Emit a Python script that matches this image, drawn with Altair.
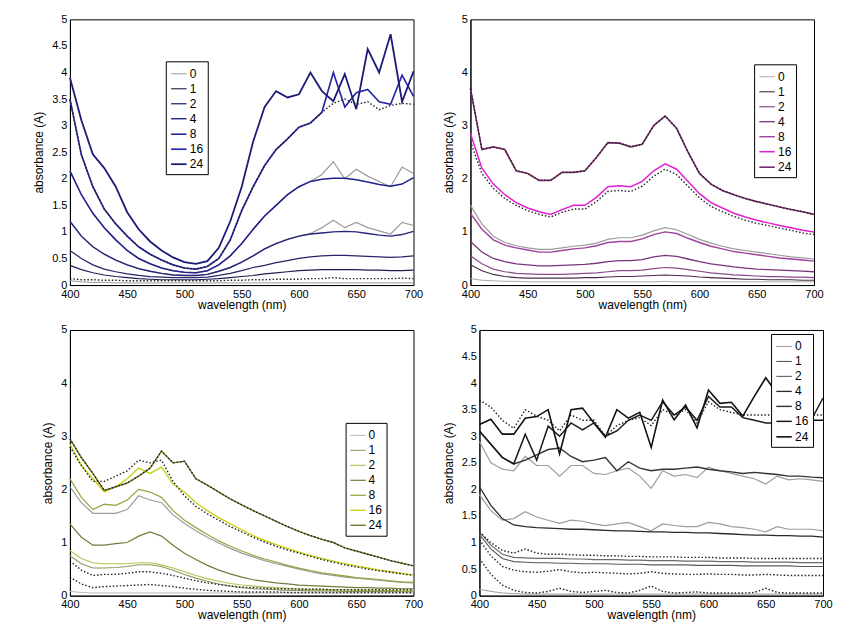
import altair as alt
import pandas as pd

WL = list(range(400, 701, 10))
LABELS = ["0", "1", "2", "4", "8", "16", "24"]
X_TICKS = [400, 450, 500, 550, 600, 650, 700]

# ---------------- Panel 1 (blue) ----------------
A0 = [0.08, 0.06, 0.05, 0.05, 0.04, 0.04, 0.04, 0.04, 0.04, 0.04, 0.04, 0.04, 0.04, 0.04, 0.04, 0.04,
      0.04, 0.04, 0.04, 0.04, 0.04, 0.04, 0.04, 0.04, 0.04, 0.04, 0.04, 0.04, 0.04, 0.04, 0.04]
A1 = [0.37, 0.29, 0.23, 0.19, 0.16, 0.14, 0.12, 0.11, 0.10, 0.10, 0.10, 0.10, 0.11, 0.12, 0.14, 0.16,
      0.18, 0.21, 0.23, 0.25, 0.27, 0.28, 0.29, 0.29, 0.29, 0.29, 0.28, 0.28, 0.27, 0.27, 0.28]
A2 = [0.65, 0.50, 0.38, 0.30, 0.25, 0.21, 0.18, 0.16, 0.15, 0.14, 0.14, 0.14, 0.15, 0.18, 0.22, 0.27,
      0.33, 0.37, 0.42, 0.46, 0.50, 0.53, 0.55, 0.56, 0.56, 0.55, 0.54, 0.53, 0.52, 0.53, 0.55]
A4 = [1.20, 0.92, 0.72, 0.58, 0.47, 0.38, 0.31, 0.26, 0.22, 0.19, 0.18, 0.18, 0.20, 0.26, 0.33, 0.43,
      0.55, 0.68, 0.78, 0.86, 0.92, 0.96, 0.98, 1.00, 1.01, 1.00, 0.97, 0.94, 0.92, 0.95, 1.01]
A8 = [2.15, 1.70, 1.35, 1.08, 0.85, 0.65, 0.50, 0.40, 0.32, 0.27, 0.24, 0.23, 0.27, 0.38, 0.55, 0.78,
      1.05, 1.30, 1.50, 1.70, 1.85, 1.95, 1.99, 2.01, 2.01, 1.98, 1.94, 1.89, 1.86, 1.90, 2.02]
A16 = [3.50, 2.45, 1.85, 1.43, 1.15, 0.92, 0.72, 0.58, 0.47, 0.38, 0.32, 0.30, 0.35, 0.50, 0.85, 1.40,
       1.85, 2.25, 2.55, 2.75, 2.97, 3.05, 3.25, 4.00, 3.35, 3.62, 3.68, 3.45, 3.40, 3.95, 3.55]
A24 = [3.90, 3.10, 2.46, 2.20, 1.85, 1.37, 1.05, 0.82, 0.65, 0.52, 0.43, 0.40, 0.45, 0.70, 1.20, 1.85,
       2.70, 3.35, 3.65, 3.53, 3.59, 4.00, 3.65, 3.46, 3.97, 3.31, 4.44, 4.00, 4.72, 3.45, 4.02]
A8_meas = [2.15, 1.70, 1.35, 1.08, 0.85, 0.65, 0.50, 0.40, 0.32, 0.27, 0.24, 0.23, 0.27, 0.38, 0.55, 0.78,
           1.05, 1.30, 1.50, 1.70, 1.85, 1.95, 2.08, 2.32, 2.00, 2.18, 2.05, 1.95, 1.85, 2.22, 2.10]
A4_meas = [1.20, 0.92, 0.72, 0.58, 0.47, 0.38, 0.31, 0.26, 0.22, 0.19, 0.18, 0.18, 0.20, 0.26, 0.33, 0.43,
           0.55, 0.68, 0.78, 0.86, 0.92, 0.97, 1.08, 1.22, 1.08, 1.18, 1.08, 1.02, 0.96, 1.18, 1.12]
A_fit_top = [3.50, 2.45, 1.85, 1.43, 1.15, 0.92, 0.72, 0.58, 0.47, 0.38, 0.32, 0.30, 0.35, 0.50, 0.85, 1.40,
             1.85, 2.25, 2.55, 2.75, 2.97, 3.05, 3.25, 3.42, 3.50, 3.40, 3.45, 3.30, 3.38, 3.42, 3.40]
A_fit_low = [0.12, 0.10, 0.10, 0.09, 0.09, 0.08, 0.08, 0.08, 0.08, 0.08, 0.08, 0.08, 0.08, 0.08, 0.09, 0.09,
             0.10, 0.10, 0.11, 0.11, 0.11, 0.12, 0.12, 0.14, 0.12, 0.12, 0.12, 0.12, 0.12, 0.13, 0.12]

# ---------------- Panel 2 (magenta) ----------------
B0 = [0.12, 0.09, 0.08, 0.07, 0.07, 0.06, 0.06, 0.06, 0.06, 0.06, 0.06, 0.06, 0.06, 0.06, 0.06, 0.06,
      0.06, 0.07, 0.06, 0.06, 0.06, 0.06, 0.06, 0.06, 0.06, 0.06, 0.06, 0.06, 0.06, 0.06, 0.06]
B1 = [0.38, 0.27, 0.20, 0.16, 0.14, 0.13, 0.13, 0.13, 0.13, 0.13, 0.14, 0.14, 0.15, 0.16, 0.16, 0.17,
      0.18, 0.19, 0.18, 0.17, 0.15, 0.14, 0.13, 0.12, 0.11, 0.11, 0.10, 0.10, 0.10, 0.09, 0.09]
B2 = [0.55, 0.40, 0.30, 0.25, 0.22, 0.21, 0.20, 0.20, 0.20, 0.21, 0.22, 0.23, 0.25, 0.27, 0.27, 0.28,
      0.31, 0.33, 0.32, 0.29, 0.26, 0.23, 0.21, 0.19, 0.18, 0.17, 0.16, 0.16, 0.15, 0.15, 0.14]
B4 = [0.82, 0.62, 0.50, 0.44, 0.40, 0.38, 0.36, 0.36, 0.37, 0.38, 0.39, 0.41, 0.44, 0.46, 0.46, 0.48,
      0.53, 0.56, 0.54, 0.49, 0.44, 0.40, 0.37, 0.34, 0.32, 0.30, 0.29, 0.28, 0.27, 0.26, 0.25]
B8 = [1.35, 1.05, 0.85, 0.75, 0.70, 0.66, 0.62, 0.62, 0.65, 0.68, 0.70, 0.74, 0.80, 0.82, 0.82, 0.87,
      0.95, 1.00, 0.97, 0.88, 0.80, 0.73, 0.68, 0.63, 0.60, 0.57, 0.54, 0.51, 0.49, 0.47, 0.45]
B16 = [2.85, 2.20, 1.90, 1.70, 1.55, 1.45, 1.38, 1.33, 1.42, 1.50, 1.50, 1.65, 1.85, 1.87, 1.85, 1.95,
       2.15, 2.28, 2.18, 1.95, 1.72, 1.55, 1.45, 1.35, 1.28, 1.22, 1.17, 1.12, 1.08, 1.03, 1.00]
B24 = [3.70, 2.55, 2.60, 2.55, 2.15, 2.10, 1.97, 1.97, 2.12, 2.12, 2.15, 2.40, 2.68, 2.67, 2.60, 2.65,
       3.00, 3.18, 2.95, 2.50, 2.10, 1.90, 1.78, 1.70, 1.63, 1.57, 1.52, 1.47, 1.42, 1.38, 1.33]
B8_meas = [1.50, 1.15, 0.92, 0.80, 0.74, 0.70, 0.67, 0.67, 0.70, 0.73, 0.75, 0.79, 0.86, 0.89, 0.89, 0.94,
           1.02, 1.08, 1.04, 0.95, 0.86, 0.79, 0.73, 0.68, 0.65, 0.62, 0.59, 0.56, 0.53, 0.51, 0.49]
B_fit_16 = [2.70, 2.10, 1.82, 1.63, 1.50, 1.40, 1.33, 1.28, 1.37, 1.43, 1.43, 1.57, 1.76, 1.78, 1.76, 1.86,
            2.05, 2.18, 2.08, 1.86, 1.64, 1.48, 1.38, 1.29, 1.22, 1.16, 1.12, 1.07, 1.03, 0.98, 0.95]
B_fit_24 = [3.70, 2.55, 2.60, 2.55, 2.15, 2.10, 1.97, 1.97, 2.12, 2.12, 2.15, 2.40, 2.68, 2.67, 2.60, 2.65,
            3.00, 3.18, 2.95, 2.50, 2.10, 1.90, 1.78, 1.70, 1.63, 1.57, 1.52, 1.47, 1.42, 1.38, 1.33]

# ---------------- Panel 3 (yellow-green) ----------------
C0 = [0.08, 0.06, 0.05, 0.05, 0.05, 0.05, 0.05, 0.05, 0.05, 0.05, 0.05, 0.05, 0.05, 0.05, 0.05, 0.05,
      0.05, 0.05, 0.05, 0.05, 0.05, 0.05, 0.05, 0.05, 0.05, 0.05, 0.05, 0.05, 0.05, 0.05, 0.05]
C1 = [0.75, 0.60, 0.52, 0.52, 0.53, 0.55, 0.58, 0.58, 0.55, 0.48, 0.40, 0.33, 0.27, 0.22, 0.18, 0.15,
      0.13, 0.12, 0.11, 0.10, 0.10, 0.09, 0.09, 0.09, 0.08, 0.08, 0.08, 0.08, 0.08, 0.08, 0.08]
C2 = [0.85, 0.70, 0.62, 0.60, 0.60, 0.60, 0.62, 0.62, 0.58, 0.52, 0.45, 0.38, 0.32, 0.27, 0.23, 0.20,
      0.18, 0.16, 0.15, 0.14, 0.13, 0.12, 0.12, 0.11, 0.11, 0.10, 0.10, 0.10, 0.10, 0.09, 0.09]
C4 = [1.35, 1.10, 0.95, 0.95, 0.98, 1.00, 1.12, 1.20, 1.12, 0.95, 0.80, 0.68, 0.57, 0.48, 0.41, 0.35,
      0.30, 0.27, 0.24, 0.22, 0.20, 0.19, 0.18, 0.17, 0.16, 0.15, 0.15, 0.14, 0.14, 0.13, 0.13]
C8 = [2.20, 1.85, 1.62, 1.72, 1.70, 1.80, 2.00, 1.95, 1.85, 1.60, 1.42, 1.28, 1.15, 1.03, 0.93, 0.84,
      0.76, 0.69, 0.63, 0.57, 0.52, 0.47, 0.43, 0.40, 0.37, 0.34, 0.32, 0.30, 0.28, 0.26, 0.25]
C16 = [2.85, 2.45, 2.20, 1.95, 2.05, 2.20, 2.40, 2.30, 2.42, 2.10, 1.95, 1.75, 1.60, 1.47, 1.35, 1.24,
       1.13, 1.04, 0.96, 0.89, 0.82, 0.76, 0.70, 0.65, 0.60, 0.56, 0.52, 0.48, 0.45, 0.42, 0.39]
C24 = [2.95, 2.60, 2.30, 1.98, 2.05, 2.12, 2.25, 2.40, 2.72, 2.50, 2.53, 2.20, 2.08, 1.95, 1.82, 1.71,
       1.60, 1.50, 1.40, 1.30, 1.21, 1.13, 1.06, 1.00, 0.90, 0.84, 0.78, 0.72, 0.66, 0.61, 0.56]
C8_meas = [2.05, 1.75, 1.55, 1.55, 1.55, 1.62, 1.88, 1.80, 1.75, 1.52, 1.36, 1.22, 1.10, 0.99, 0.89, 0.80,
           0.73, 0.66, 0.60, 0.55, 0.50, 0.45, 0.41, 0.38, 0.35, 0.33, 0.31, 0.29, 0.27, 0.25, 0.24]
C_fit_16 = [2.80, 2.45, 2.15, 2.15, 2.25, 2.35, 2.55, 2.50, 2.55, 2.15, 1.88, 1.68, 1.54, 1.42, 1.30, 1.20,
            1.10, 1.01, 0.93, 0.86, 0.80, 0.74, 0.68, 0.63, 0.58, 0.54, 0.50, 0.47, 0.44, 0.41, 0.38]
C_fit_24 = [2.95, 2.60, 2.30, 1.98, 2.05, 2.12, 2.25, 2.40, 2.72, 2.50, 2.53, 2.20, 2.08, 1.95, 1.82, 1.71,
            1.60, 1.50, 1.40, 1.30, 1.21, 1.13, 1.06, 1.00, 0.90, 0.84, 0.78, 0.72, 0.66, 0.61, 0.56]
C_fit_a = [0.65, 0.48, 0.38, 0.40, 0.40, 0.42, 0.45, 0.45, 0.42, 0.38, 0.33, 0.28, 0.24, 0.21, 0.18, 0.16,
           0.15, 0.14, 0.13, 0.13, 0.12, 0.12, 0.12, 0.11, 0.11, 0.11, 0.11, 0.11, 0.11, 0.11, 0.11]
C_fit_b = [0.35, 0.22, 0.15, 0.17, 0.18, 0.19, 0.20, 0.21, 0.19, 0.17, 0.14, 0.12, 0.10, 0.09, 0.08, 0.07,
           0.07, 0.07, 0.07, 0.06, 0.06, 0.06, 0.06, 0.06, 0.06, 0.06, 0.06, 0.06, 0.06, 0.06, 0.06]

# ---------------- Panel 4 (grey/black) ----------------
D0 = [0.12, 0.08, 0.05, 0.04, 0.03, 0.03, 0.03, 0.03, 0.03, 0.03, 0.03, 0.03, 0.03, 0.03, 0.03, 0.03,
      0.03, 0.03, 0.03, 0.03, 0.03, 0.03, 0.03, 0.03, 0.03, 0.03, 0.03, 0.03, 0.03, 0.03, 0.03]
D1 = [1.15, 0.88, 0.70, 0.64, 0.63, 0.62, 0.62, 0.61, 0.61, 0.60, 0.60, 0.60, 0.59, 0.59, 0.59, 0.58,
      0.58, 0.58, 0.58, 0.57, 0.57, 0.57, 0.57, 0.56, 0.56, 0.56, 0.56, 0.56, 0.55, 0.55, 0.55]
D2 = [1.20, 0.95, 0.78, 0.72, 0.71, 0.70, 0.70, 0.70, 0.69, 0.69, 0.68, 0.68, 0.68, 0.67, 0.67, 0.66,
      0.66, 0.66, 0.65, 0.65, 0.65, 0.64, 0.64, 0.64, 0.63, 0.63, 0.63, 0.63, 0.62, 0.62, 0.62]
D4 = [2.05, 1.70, 1.45, 1.33, 1.30, 1.28, 1.27, 1.26, 1.25, 1.25, 1.24, 1.23, 1.22, 1.22, 1.21, 1.20,
      1.20, 1.19, 1.19, 1.18, 1.18, 1.17, 1.16, 1.15, 1.14, 1.14, 1.13, 1.13, 1.12, 1.12, 1.10]
D8 = [3.10, 2.85, 2.60, 2.48, 2.55, 2.65, 2.75, 2.78, 2.62, 2.52, 2.55, 2.60, 2.35, 2.52, 2.40, 2.35,
      2.38, 2.38, 2.40, 2.42, 2.38, 2.35, 2.33, 2.30, 2.32, 2.30, 2.28, 2.25, 2.25, 2.23, 2.22]
D16 = [3.10, 2.85, 2.60, 2.48, 3.04, 2.55, 3.19, 3.00, 3.25, 3.12, 3.25, 3.00, 3.10, 3.30, 3.40, 3.30,
       3.65, 3.40, 3.55, 3.30, 3.75, 3.55, 3.55, 3.35, 3.30, 3.25, 3.25, 3.30, 3.30, 3.32, 3.72]
D24 = [3.22, 3.32, 3.04, 3.04, 3.34, 3.37, 3.50, 2.67, 3.50, 3.53, 3.25, 2.98, 3.50, 3.34, 3.45, 2.79,
       3.68, 3.31, 3.59, 3.16, 3.87, 3.62, 3.64, 3.38, 3.75, 4.10, 3.80, 3.50, 3.30, 3.30, 3.30]
D8_meas = [2.90, 2.50, 2.38, 2.35, 2.62, 2.45, 2.45, 2.25, 2.45, 2.45, 2.30, 2.28, 2.35, 2.40, 2.25, 2.02,
           2.35, 2.25, 2.28, 2.22, 2.42, 2.35, 2.30, 2.25, 2.20, 2.10, 2.25, 2.18, 2.20, 2.18, 2.15]
D4_meas = [1.90, 1.60, 1.42, 1.45, 1.58, 1.48, 1.42, 1.36, 1.42, 1.40, 1.35, 1.32, 1.35, 1.38, 1.30, 1.22,
           1.35, 1.32, 1.30, 1.30, 1.38, 1.35, 1.30, 1.28, 1.25, 1.20, 1.30, 1.25, 1.25, 1.25, 1.22]
D_fit_top = [3.68, 3.55, 3.30, 3.15, 3.50, 3.38, 3.30, 3.10, 3.40, 3.30, 3.30, 3.00, 3.20, 3.30, 3.35, 3.20,
             3.50, 3.40, 3.50, 3.25, 3.65, 3.50, 3.45, 3.40, 3.40, 3.40, 3.40, 3.40, 3.40, 3.40, 3.40]
D_fit_a = [1.20, 1.00, 0.85, 0.80, 0.88, 0.80, 0.78, 0.78, 0.77, 0.76, 0.76, 0.75, 0.75, 0.74, 0.74, 0.73,
           0.73, 0.73, 0.72, 0.72, 0.72, 0.71, 0.71, 0.71, 0.70, 0.70, 0.70, 0.70, 0.70, 0.70, 0.70]
D_fit_b = [1.05, 0.75, 0.55, 0.48, 0.45, 0.44, 0.46, 0.49, 0.45, 0.43, 0.44, 0.43, 0.42, 0.41, 0.42, 0.45,
           0.42, 0.41, 0.40, 0.40, 0.41, 0.40, 0.40, 0.39, 0.39, 0.40, 0.39, 0.38, 0.38, 0.38, 0.38]
D_fit_c = [0.70, 0.40, 0.20, 0.10, 0.06, 0.05, 0.08, 0.14, 0.08, 0.06, 0.08, 0.10, 0.06, 0.05, 0.10, 0.18,
           0.08, 0.05, 0.06, 0.07, 0.05, 0.05, 0.05, 0.05, 0.06, 0.14, 0.06, 0.05, 0.05, 0.05, 0.05]

PANELS = [
    dict(series=[A0, A1, A2, A4, A8, A16, A24],
         colors=["#9a9a9a", "#1e1e50", "#25256a", "#24247a", "#20208e", "#2626a8", "#1c1c78"],
         widths=[1, 1.8, 1.8, 1.8, 1.8, 2.4, 2.4],
         gray=[A8_meas, A4_meas], dots=[A_fit_top, A_fit_low],
         yvals=[0, 0.5, 1, 1.5, 2, 2.5, 3, 3.5, 4, 4.5, 5], leg=(96, 42)),
    dict(series=[B0, B1, B2, B4, B8, B16, B24],
         colors=["#aaaaaa", "#4a2a4a", "#8a4a8a", "#7a347a", "#a040a0", "#e020d0", "#7a2a70"],
         widths=[1, 1.6, 1.6, 1.8, 1.8, 2.4, 2.4],
         gray=[B8_meas], dots=[B_fit_16, B_fit_24],
         yvals=[0, 1, 2, 3, 4, 5], leg=(284, 45)),
    dict(series=[C0, C1, C2, C4, C8, C16, C24],
         colors=["#b8b8b8", "#8a9a60", "#b4c450", "#6f7d3a", "#96a640", "#c8d010", "#707a28"],
         widths=[1, 1.4, 1.6, 1.8, 1.8, 2.4, 2.2],
         gray=[C8_meas], dots=[C_fit_16, C_fit_24, C_fit_a, C_fit_b],
         yvals=[0, 1, 2, 3, 4, 5], leg=(276, 93)),
    dict(series=[D0, D1, D2, D4, D8, D16, D24],
         colors=["#9a9a9a", "#5a5a5a", "#6a6a6a", "#2a2a2a", "#333333", "#1a1a1a", "#111111"],
         widths=[1, 1.6, 1.6, 2, 1.8, 2.4, 2.4],
         gray=[D8_meas, D4_meas], dots=[D_fit_top, D_fit_a, D_fit_b, D_fit_c],
         yvals=[0, 0.5, 1, 1.5, 2, 2.5, 3, 3.5, 4, 4.5, 5], leg=(292, 4)),
]

W, H = 344, 266


def long_df(arrays, names):
    rows = []
    for name, arr in zip(names, arrays):
        for wl, v in zip(WL, arr):
            rows.append({"wl": wl, "v": v, "s": name})
    return pd.DataFrame(rows)


def make_panel(p):
    x = alt.X("wl:Q", scale=alt.Scale(domain=[400, 700], nice=False),
              axis=alt.Axis(values=X_TICKS, title="wavelength (nm)", grid=False, ticks=False,
                            labelPadding=3, titlePadding=0, labelFlush=False))
    y = alt.Y("v:Q", scale=alt.Scale(domain=[0, 5], nice=False),
              axis=alt.Axis(values=p["yvals"], format="~g", title="absorbance (A)", grid=False,
                            ticks=False, labelPadding=3, titlePadding=6))
    gray_df = long_df(p["gray"], [f"g{i}" for i in range(len(p["gray"]))])
    dot_df = long_df(p["dots"], [f"d{i}" for i in range(len(p["dots"]))])
    main_df = long_df(p["series"], LABELS)

    gray = alt.Chart(gray_df).mark_line(color="#9c9c9c", strokeWidth=1.2).encode(
        x=x, y=y, detail="s:N")
    main = alt.Chart(main_df).mark_line().encode(
        x=x, y=y,
        color=alt.Color("s:N", sort=LABELS,
                        scale=alt.Scale(domain=LABELS, range=p["colors"]),
                        legend=alt.Legend(title=None, orient="none", legendX=p["leg"][0],
                                          legendY=p["leg"][1], strokeColor="black",
                                          fillColor="white", padding=4, symbolType="stroke",
                                          symbolSize=240, symbolStrokeWidth=2,
                                          labelFontSize=12, rowPadding=0, labelOffset=2,
                                          cornerRadius=0)),
        strokeWidth=alt.StrokeWidth("s:N", sort=LABELS,
                                    scale=alt.Scale(domain=LABELS, range=p["widths"]),
                                    legend=None),
    )
    dots = alt.Chart(dot_df).mark_line(color="#222222", strokeWidth=1.4,
                                        strokeDash=[1.5, 2]).encode(x=x, y=y, detail="s:N")
    return alt.layer(gray, main, dots).properties(width=W, height=H)


charts = [make_panel(p) for p in PANELS]
row1 = alt.hconcat(charts[0], charts[1], spacing=18).resolve_scale(
    color="independent", strokeWidth="independent")
row2 = alt.hconcat(charts[2], charts[3], spacing=18).resolve_scale(
    color="independent", strokeWidth="independent")
chart = alt.vconcat(row1, row2, spacing=12).resolve_scale(
    color="independent", strokeWidth="independent"
).properties(
    padding={"left": 24, "top": 4, "right": 0, "bottom": 0},
    background="white",
).configure(font="Liberation Sans").configure_axis(
    labelFontSize=11, titleFontSize=12, labelColor="black", titleColor="black",
    domainColor="black", titleFontWeight="normal", labelFont="Liberation Sans",
    titleFont="Liberation Sans",
).configure_view(stroke="black", strokeWidth=1).configure_legend(
    labelFont="Liberation Sans", labelColor="black"
)

chart.save("out.html", embed_options={"renderer": "svg", "actions": False})
